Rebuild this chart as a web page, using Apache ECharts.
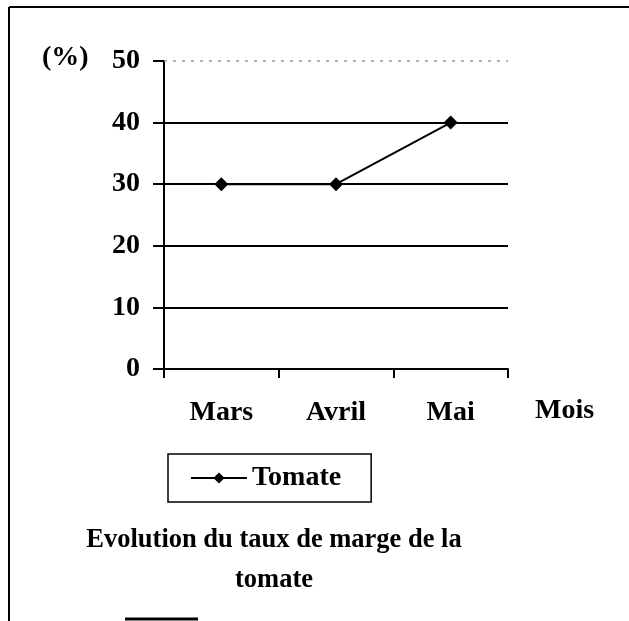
<!DOCTYPE html>
<html>
<head>
<meta charset="utf-8">
<script src="https://cdn.jsdelivr.net/npm/echarts@6/dist/echarts.min.js"></script>
<style>html,body{margin:0;padding:0;background:#fff}#c{width:629px;height:621px}</style>
</head>
<body>
<div id="c"></div>
<script>
const categories = ['Mars', 'Avril', 'Mai'];
const tomate = [30, 30, 40];
const seriesName = 'Tomate';
const titleText = 'Evolution du taux de marge de la\ntomate';
const yUnit = '(%)';
const xName = 'Mois';

const FONT = 'Liberation Serif';
const chart = echarts.init(document.getElementById('c'));
chart.setOption({
  animation: false,
  backgroundColor: '#fff',
  textStyle: { fontFamily: FONT, fontWeight: 'bold', color: '#000' },
  title: {
    text: titleText,
    left: 269, top: 515, textAlign: 'center',
    textStyle: { fontFamily: FONT, fontWeight: 'bold', fontSize: 26.5, lineHeight: 40, color: '#000' }
  },
  legend: {
    left: 168, top: 454,
    data: [seriesName],
    borderColor: '#000', borderWidth: 1.5,
    padding: [10, 30, 10, 22],
    itemWidth: 56, itemHeight: 14, itemGap: 6,
    textStyle: { fontFamily: FONT, fontWeight: 'bold', fontSize: 28, color: '#000' }
  },
  grid: { left: 164, right: 121, top: 61, bottom: 252 },
  xAxis: {
    type: 'category', data: categories, boundaryGap: true,
    axisLine: { lineStyle: { color: '#000', width: 2 } },
    axisTick: { show: true, length: 9, lineStyle: { color: '#000', width: 2 } },
    axisLabel: { margin: 30, fontFamily: FONT, fontWeight: 'bold', fontSize: 28, color: '#000' }
  },
  yAxis: {
    type: 'value', min: 0, max: 50, interval: 10,
    axisLine: { show: true, lineStyle: { color: '#000', width: 2 } },
    axisTick: { show: true, length: 11, lineStyle: { color: '#000', width: 2 } },
    axisLabel: { margin: 24, fontFamily: FONT, fontWeight: 'bold', fontSize: 28, color: '#000' },
    splitLine: { show: true, showMaxLine: false, lineStyle: { color: '#000', width: 2 } }
  },
  graphic: [
    { type: 'text', left: 42, top: 44, style: { text: yUnit, fontFamily: FONT, fontWeight: 'bold', fontSize: 28, fill: '#000' } },
    { type: 'text', left: 535, top: 397, style: { text: xName, fontFamily: FONT, fontWeight: 'bold', fontSize: 28, fill: '#000' } },
    { type: 'line', shape: { x1: 9, y1: 7, x2: 9, y2: 621 }, style: { stroke: '#000', lineWidth: 2 } },
    { type: 'line', shape: { x1: 9, y1: 7, x2: 629, y2: 7 }, style: { stroke: '#000', lineWidth: 2 } },
    { type: 'line', shape: { x1: 125, y1: 619, x2: 198, y2: 619 }, style: { stroke: '#000', lineWidth: 3 } }
  ],
  series: [{
    name: seriesName, type: 'line', data: tomate,
    color: '#000',
    lineStyle: { color: '#000', width: 2 },
    itemStyle: { color: '#000' },
    symbol: 'diamond', symbolSize: 14,
    markLine: {
      silent: true, symbol: 'none', label: { show: false },
      lineStyle: { color: '#999', type: [3, 6], width: 1.5 },
      data: [{ yAxis: 50 }]
    }
  }]
});
</script>
</body>
</html>
